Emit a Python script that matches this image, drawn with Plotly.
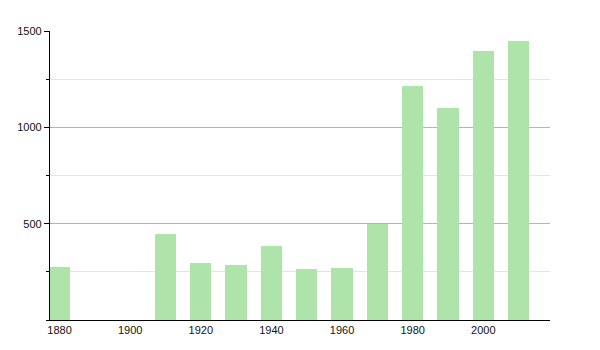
import plotly.graph_objects as go

years = [1880, 1910, 1920, 1930, 1940, 1950, 1960, 1970, 1980, 1990, 2000, 2010]
population = [273, 446, 294, 285, 386, 265, 270, 498, 1214, 1102, 1396, 1448]
x_ticks = [1880, 1900, 1920, 1940, 1960, 1980, 2000]
y_ticks = [500, 1000, 1500]

fig = go.Figure()
fig.add_trace(go.Bar(
    x=years, y=population, width=6,
    marker=dict(color="#aee3aa", line=dict(width=0)),
))

fig.update_layout(
    width=600, height=350,
    margin=dict(l=50, r=50, t=31, b=30),
    paper_bgcolor="white", plot_bgcolor="white",
    showlegend=False,
    font=dict(family="Liberation Sans, Arial, sans-serif", size=11, color="#111"),
    bargap=0,
)
fig.update_xaxes(
    range=[1877.3, 2018.9],
    tickmode="array", tickvals=x_ticks, ticktext=[str(t) for t in x_ticks],
    showgrid=False, zeroline=False,
    showline=True, linecolor="black", linewidth=1.2,
    ticks="", ticklen=0,
)
fig.update_yaxes(
    range=[0, 1500],
    tickmode="array", tickvals=y_ticks, ticktext=[str(t) for t in y_ticks],
    showgrid=True, gridcolor="#b4b4b4", gridwidth=1,
    zeroline=False,
    showline=True, linecolor="black", linewidth=1.2,
    ticks="outside", ticklen=5, tickcolor="black",
    minor=dict(dtick=250, tick0=0, showgrid=True, gridcolor="#e4e4e4",
               ticks="outside", ticklen=3, tickcolor="black"),
)

fig.write_html("out.html")
